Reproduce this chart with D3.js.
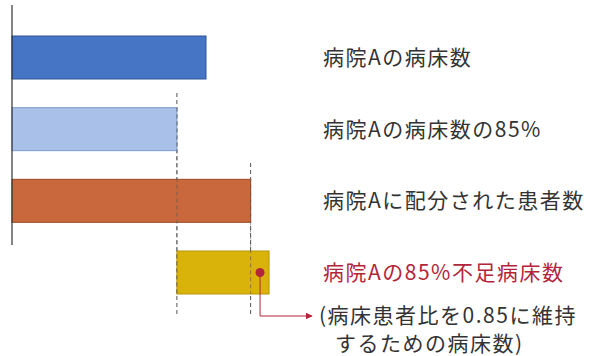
<!DOCTYPE html>
<html>
<head>
<meta charset="utf-8">
<script src="https://cdn.jsdelivr.net/npm/d3@7"></script>
<style>
  body { margin: 0; background: #fff; }
  svg text { font-family: "Noto Sans CJK JP", sans-serif; letter-spacing: 1.5px; }
</style>
</head>
<body>
<svg id="chart" width="591" height="356"></svg>
<script>
// 各バーのラベル
const labels = ['病院Aの病床数', '病院Aの病床数の85%', '病院Aに配分された患者数', '病院Aの85%不足病床数']
// バーの開始値・終了値 (病院Aの病床数 = 100)
const startValues = [0, 0, 0, 85]
const endValues = [100, 85, 123, 132.5]
// 破線の位置
const guideValues = [85, 123]
const noteLines = ['(病床患者比を0.85に維持', 'するための病床数)']

const fills = ['#4675c6', '#a9c1e9', '#c8683c', '#dab30a']
const strokes = ['#2f5597', '#7f9ccc', '#9a4a26', '#b8960a']

let svg = d3.select('#chart')

let x = d3.scaleLinear().domain([0, 100]).range([12, 206])
let y = d3.scaleBand().domain(d3.range(labels.length)).range([36, 294]).paddingInner(0.4)

// 破線
svg.append('g')
  .selectAll('line')
  .data(guideValues)
  .enter()
  .append('line')
  .attr('x1', d => x(d))
  .attr('x2', d => x(d))
  .attr('y1', (d, i) => i === 0 ? 93 : 163)
  .attr('y2', 316)
  .attr('stroke', '#555')
  .attr('stroke-width', 1)
  .attr('stroke-dasharray', '4,3')

// バー
svg.append('g')
  .selectAll('rect')
  .data(labels)
  .enter()
  .append('rect')
  .attr('x', (d, i) => x(startValues[i]))
  .attr('y', (d, i) => y(i))
  .attr('width', (d, i) => x(endValues[i]) - x(startValues[i]))
  .attr('height', y.bandwidth())
  .attr('fill', (d, i) => fills[i])
  .attr('stroke', (d, i) => strokes[i])
  .attr('stroke-width', 1)

// 破線 (バーの上)
svg.append('g')
  .selectAll('line')
  .data(guideValues)
  .enter()
  .append('line')
  .attr('x1', d => x(d))
  .attr('x2', d => x(d))
  .attr('y1', (d, i) => i === 0 ? y(1) : y(2))
  .attr('y2', y(3) + y.bandwidth())
  .attr('stroke', '#555')
  .attr('stroke-opacity', 0.6)
  .attr('stroke-width', 1)
  .attr('stroke-dasharray', '4,3')

// 縦軸
svg.append('line')
  .attr('x1', x(0)).attr('x2', x(0))
  .attr('y1', 5).attr('y2', 245)
  .attr('stroke', '#333')
  .attr('stroke-width', 1.2)

// ラベル
svg.append('g')
  .selectAll('text')
  .data(labels)
  .enter()
  .append('text')
  .attr('x', 323)
  .attr('y', (d, i) => y(i) + y.bandwidth() / 2)
  .attr('dy', '0.36em')
  .style('font-size', '21px')
  .style('fill', (d, i) => i === 3 ? '#b3253a' : '#333')
  .text(d => d)

// 注記の矢印
let dotX = x(endValues[3]) - 9
let dotY = y(3) + y.bandwidth() / 2
svg.append('defs').append('marker')
  .attr('id', 'arrow')
  .attr('viewBox', '0 0 10 10')
  .attr('refX', 9).attr('refY', 5)
  .attr('markerWidth', 7).attr('markerHeight', 7)
  .attr('orient', 'auto')
  .append('path')
  .attr('d', 'M0,0L10,5L0,10Z')
  .attr('fill', '#b3253a')

svg.append('path')
  .attr('d', `M${dotX},${dotY}L${dotX},316L312,316`)
  .attr('fill', 'none')
  .attr('stroke', '#b3253a')
  .attr('stroke-width', 1)
  .attr('marker-end', 'url(#arrow)')

svg.append('circle')
  .attr('cx', dotX)
  .attr('cy', dotY)
  .attr('r', 4.5)
  .attr('fill', '#b3253a')

svg.append('g')
  .selectAll('text')
  .data(noteLines)
  .enter()
  .append('text')
  .attr('x', (d, i) => i === 0 ? 319 : 335)
  .attr('y', (d, i) => 315 + i * 28)
  .attr('dy', '0.36em')
  .style('font-size', '21px')
  .style('fill', '#333')
  .text(d => d)
</script>
</body>
</html>
